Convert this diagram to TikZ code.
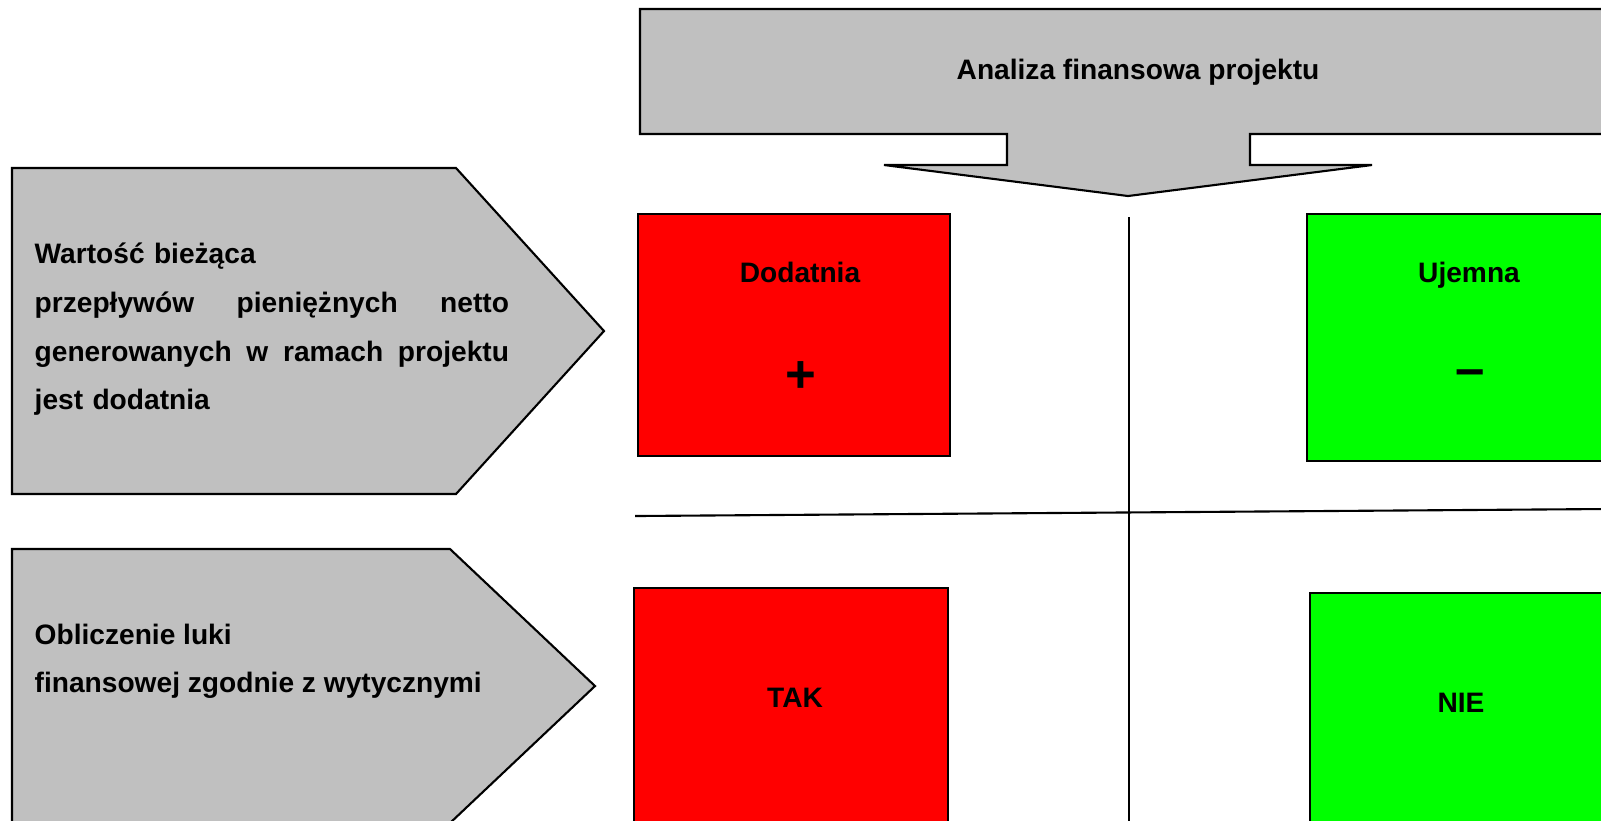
\documentclass[tikz,border=0pt]{standalone}
\usepackage{fontspec}
\setmainfont{Liberation Sans}
\usepackage{tikz}
\usetikzlibrary{positioning}
\definecolor{Szary}{HTML}{C0C0C0}
\definecolor{Czerwony}{HTML}{FF0000}
\definecolor{Zielony}{HTML}{00FF00}

\begin{document}
\begin{tikzpicture}[x=0.01cm, y=-0.01cm,
    ksztalt/.style={draw=black, line width=0.6pt},
    napis/.style={inner sep=0pt, font=\fontsize{8}{13.9}\selectfont\bfseries},
    znak/.style={inner sep=0pt, font=\fontsize{15}{15}\selectfont\bfseries}]

    \useasboundingbox (0,0) rectangle (1601,820);
    \clip (0,0) rectangle (1601,820);

    % strzalka u gory
    \draw [ksztalt, fill=Szary] (640,9) -- (1610,9) -- (1610,134) -- (1250,134) -- (1250,165)
        -- (1372,165) -- (1128,196) -- (884,165) -- (1007,165) -- (1007,134) -- (640,134) -- cycle;
    \node [napis, align=center] (analiza) at (1138,72) {Analiza finansowa projektu};

    % strzalki z lewej
    \draw [ksztalt, fill=Szary] (12,168) -- (456,168) -- (604,331) -- (456,494) -- (12,494) -- cycle;
    \draw [ksztalt, fill=Szary] (12,549) -- (450,549) -- (595,686) -- (450,823) -- (12,823) -- cycle;

    \node [napis, text width=4.74cm, align=left, anchor=north west] (wartosc) at (34,242)
        {Wartość bieżąca\\
         przepływów\hfill pieniężnych\hfill netto\\
         generowanych\hfill w\hfill ramach\hfill projektu\\
         jest dodatnia};
    \node [napis, align=left, anchor=north west] (luka) at (34,623)
        {Obliczenie luki\\
         finansowej zgodnie z wytycznymi};

    % linie podzialu
    \draw [line width=0.6pt] (1129,217) -- (1129,825);
    \draw [line width=0.6pt] (635,516) -- (1605,509);

    % pola
    \draw [ksztalt, fill=Czerwony] (638,214) rectangle (950,456);
    \draw [ksztalt, fill=Zielony] (1307,214) rectangle (1610,461);
    \draw [ksztalt, fill=Czerwony] (634,588) rectangle (948,830);
    \draw [ksztalt, fill=Zielony] (1310,593) rectangle (1610,830);

    \node [napis, anchor=base] (dodatnia) at (800,282) {Dodatnia};
    \node [znak] (plus) at (801,377) {+};
    \node [napis, anchor=base] (ujemna) at (1469,282) {Ujemna};
    \node [znak] (minus) at (1470,378) {–};
    \node [napis, anchor=base] (tak) at (795,707) {TAK};
    \node [napis, anchor=base] (nie) at (1461,712) {NIE};

\end{tikzpicture}
\end{document}
